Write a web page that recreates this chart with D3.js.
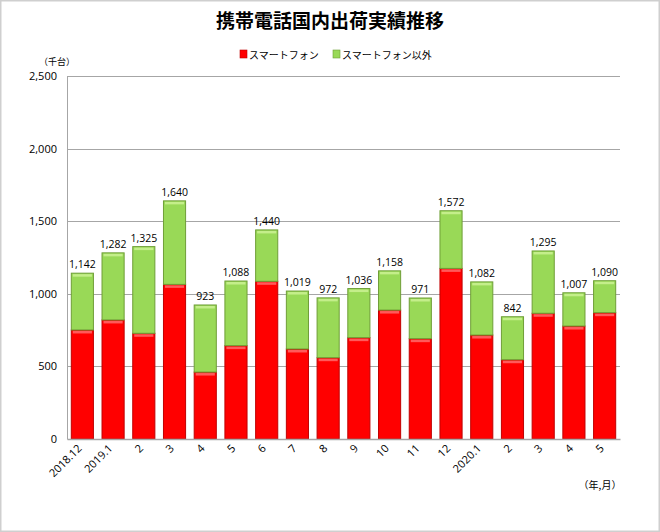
<!DOCTYPE html>
<html>
<head>
<meta charset="utf-8">
<script src="https://cdn.jsdelivr.net/npm/d3@7"></script>
<style>
  html, body { margin: 0; padding: 0; background: #fff; }
  svg { display: block; font-family: "Noto Sans CJK JP", "Noto Sans", sans-serif; }
</style>
</head>
<body>
<svg class="main" width="660" height="532"></svg>
<script>
var MONTHS = ["2018.12", "2019.1", "2", "3", "4", "5", "6", "7", "8", "9", "10", "11", "12", "2020.1", "2", "3", "4", "5"];
var SMARTPHONE = [751, 820, 728, 1065, 461, 643, 1086, 620, 560, 698, 888, 691, 1175, 716, 546, 866, 778, 870];
var OTHER = [391, 462, 597, 575, 462, 445, 354, 399, 412, 338, 270, 280, 397, 366, 296, 429, 229, 220];
var TOTALS = [1142, 1282, 1325, 1640, 923, 1088, 1440, 1019, 972, 1036, 1158, 971, 1572, 1082, 842, 1295, 1007, 1090];
var Y_TICKS = [0, 500, 1000, 1500, 2000, 2500];
var SERIES = ["スマートフォン", "スマートフォン以外"];
var COLORS = { fill: ["#ff0000", "#99d957"], edge: ["#c00000", "#6f9e37"], shine: ["#ff5a5a", "#c4ee8a"] };

var svg = d3.select("svg.main");
var margin = { left: 67, right: 40, top: 76, bottom: 93 };
var W = 660, H = 532;

// outer frame
svg.append("rect")
  .attr("x", 0.5).attr("y", 0.5)
  .attr("width", W - 1).attr("height", H - 1)
  .attr("fill", "none").attr("stroke", "#cfcfcf").attr("stroke-width", 2);

var x = d3.scaleBand()
  .domain(d3.range(MONTHS.length))
  .range([margin.left, W - margin.right])
  .paddingInner(0.28).paddingOuter(0.14);

var y = d3.scaleLinear()
  .domain([0, 2500])
  .range([H - margin.bottom, margin.top]);

// title
svg.append("text")
  .attr("x", 330).attr("y", 28)
  .attr("text-anchor", "middle")
  .attr("font-size", 19).attr("font-weight", "bold")
  .attr("fill", "#000")
  .text("携帯電話国内出荷実績推移");

// legend
var legendItems = [{ x: 240, i: 0 }, { x: 333, i: 1 }];
legendItems.forEach(function(d) {
  var g = svg.append("g").attr("transform", "translate(" + d.x + ",55)");
  g.append("rect").attr("x", 0).attr("y", -5).attr("width", 7).attr("height", 8)
    .attr("fill", COLORS.fill[d.i]).attr("stroke", COLORS.edge[d.i]).attr("stroke-width", 0.6);
  g.append("text").attr("x", 9).attr("y", 3.5)
    .attr("font-size", 10).attr("fill", "#000")
    .text(SERIES[d.i]);
});

// gridlines
svg.append("g").selectAll("line")
  .data(Y_TICKS.slice(1))
  .join("line")
  .attr("x1", margin.left).attr("x2", W - margin.right)
  .attr("y1", function(d) { return Math.round(y(d)) + 0.5; })
  .attr("y2", function(d) { return Math.round(y(d)) + 0.5; })
  .attr("stroke", "#a6a6a6").attr("stroke-width", 1);

// y axis
var yAxis = svg.append("g")
  .attr("transform", "translate(" + margin.left + ",0)")
  .call(d3.axisLeft(y).tickValues(Y_TICKS).tickSize(0).tickPadding(10).tickFormat(d3.format(",")));
yAxis.select(".domain").attr("stroke", "#a6a6a6");
yAxis.selectAll("text").attr("font-size", 11).attr("fill", "#000")
  .attr("font-family", "'Open Sans', 'Noto Sans', sans-serif");

svg.append("text")
  .attr("x", 57).attr("y", 65)
  .attr("text-anchor", "middle")
  .attr("font-size", 9).attr("fill", "#000")
  .text("（千台）");

// bars
var stacked = MONTHS.map(function(m, i) {
  return [
    { i: i, s: 0, y0: 0, y1: SMARTPHONE[i] },
    { i: i, s: 1, y0: SMARTPHONE[i], y1: SMARTPHONE[i] + OTHER[i] }
  ];
});

var barG = svg.append("g");
stacked.forEach(function(parts) {
  parts.forEach(function(p) {
    var bx = x(p.i), bw = x.bandwidth();
    var top = y(p.y1), bot = y(p.y0);
    barG.append("rect")
      .attr("x", bx).attr("y", top)
      .attr("width", bw).attr("height", bot - top)
      .attr("fill", COLORS.fill[p.s])
      .attr("stroke", COLORS.edge[p.s]).attr("stroke-width", 1);
    barG.append("rect")
      .attr("x", bx + 1.5).attr("y", top + 1)
      .attr("width", bw - 3).attr("height", 2.5)
      .attr("fill", COLORS.shine[p.s]);
  });
});

// x axis
var xAxis = svg.append("g")
  .attr("transform", "translate(0," + y(0) + ")")
  .call(d3.axisBottom(x).tickSize(0).tickSizeOuter(0).tickFormat(function(i) { return MONTHS[i]; }));
xAxis.select(".domain").attr("stroke", "#a6a6a6").attr("stroke-width", 1.5);
xAxis.selectAll("text")
  .attr("font-size", 11).attr("fill", "#000")
  .attr("font-family", "'Open Sans', 'Noto Sans', sans-serif")
  .attr("text-anchor", "end")
  .attr("dy", null)
  .attr("transform", "translate(-2,8) rotate(-45)");

// total labels
svg.append("g").selectAll("text")
  .data(TOTALS)
  .join("text")
  .attr("x", function(d, i) { return x(i) + x.bandwidth() / 2; })
  .attr("y", function(d) { return y(d) - 5; })
  .attr("text-anchor", "middle")
  .attr("font-size", 10.5).attr("fill", "#000")
  .attr("font-family", "'Open Sans', 'Noto Sans', sans-serif")
  .text(function(d) { return d3.format(",")(d); });

svg.append("text")
  .attr("x", 600).attr("y", 489)
  .attr("text-anchor", "middle")
  .attr("font-size", 10).attr("fill", "#000")
  .text("（年,月）");
</script>
</body>
</html>
